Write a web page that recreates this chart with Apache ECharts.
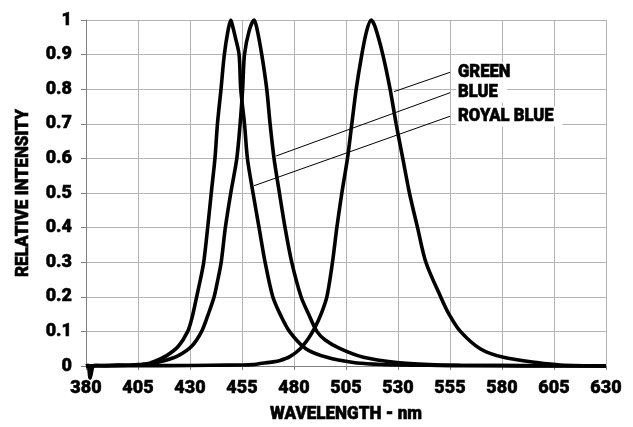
<!DOCTYPE html>
<html>
<head>
<meta charset="utf-8">
<script src="https://cdn.jsdelivr.net/npm/echarts@6/dist/echarts.min.js"></script>
<style>
html,body{margin:0;padding:0;background:#fff;}
#chart{width:633px;height:427px;}
</style>
</head>
<body>
<div id="chart"></div>
<script>
// Wavelength (nm) and relative intensity for each LED spectrum
const royalBlueNm  = [380, 381, 382, 383.5, 385, 390, 395, 400, 405, 410, 414, 418.8, 424.4, 428.9, 431, 433.2, 435, 436.6, 438.5, 440.4, 442, 443.2, 444.9, 446.5, 448.3, 449.6, 450.6, 451.8, 453.6, 454.4, 456.2, 457.6, 460.3, 463.2, 466.1, 469.8, 473.3, 477.8, 485.7, 495.8, 508.6, 520, 530, 545, 560, 580, 600, 630];
const royalBlueVal = [0, 0.002, -0.035, 0.001, 0.002, 0.001, 0.003, 0.002, 0.004, 0.007, 0.016, 0.03, 0.057, 0.1, 0.14, 0.2, 0.25, 0.3, 0.4, 0.51, 0.6, 0.7, 0.8, 0.9, 0.97, 1.0, 0.98, 0.95, 0.9, 0.8, 0.7, 0.6, 0.5, 0.4, 0.3, 0.2, 0.15, 0.1, 0.05, 0.025, 0.01, 0.005, 0.003, 0.002, 0.001, 0.001, 0, 0];

const blueNm  = [380, 390, 400, 410, 418, 424.4, 430.8, 435.6, 438.8, 441.6, 443.4, 445, 447, 449.6, 452.5, 454.1, 455.3, 456.2, 458.5, 460.8, 462, 464.5, 466.9, 468.5, 470.4, 473, 475.7, 478.9, 483.4, 487, 491, 495, 502.2, 513.4, 529.5, 545, 560, 590, 630];
const blueVal = [0, 0.001, 0.002, 0.006, 0.016, 0.03, 0.057, 0.1, 0.15, 0.2, 0.25, 0.3, 0.4, 0.5, 0.6, 0.7, 0.8, 0.9, 0.97, 1.0, 0.98, 0.9, 0.8, 0.7, 0.6, 0.5, 0.4, 0.3, 0.2, 0.15, 0.1, 0.075, 0.05, 0.025, 0.01, 0.004, 0.002, 0.001, 0];

const greenNm  = [380, 400, 420, 440, 455, 460, 463.7, 470, 473.3, 478, 483, 487, 490.2, 493, 495.8, 498.5, 500.6, 503, 505.7, 507.8, 509.9, 512.6, 515, 517.1, 519, 522.7, 526.2, 529.1, 532.3, 535.5, 539.4, 543.4, 550.5, 554.5, 560, 569.5, 580.7, 596.8, 608, 630];
const greenVal = [0, 0.001, 0.001, 0.002, 0.003, 0.004, 0.007, 0.012, 0.016, 0.027, 0.05, 0.08, 0.113, 0.15, 0.2, 0.3, 0.4, 0.5, 0.6, 0.7, 0.8, 0.9, 0.97, 1.0, 0.98, 0.9, 0.8, 0.7, 0.6, 0.5, 0.4, 0.3, 0.2, 0.15, 0.1, 0.05, 0.025, 0.01, 0.003, 0];

// Annotation labels: label anchor and the point on the curve the leader line reaches
const labelNames  = ['GREEN', 'BLUE', 'ROYAL BLUE'];
const labelAnchor = [[555.1, 0.849], [555.1, 0.790], [555.1, 0.722]];
const leaderEnd   = [[528.1, 0.793], [471.4, 0.607], [460.8, 0.521]];

const xTitle = 'WAVELENGTH - nm';
const yTitle = 'RELATIVE INTENSITY';

const xMin = 380, xMax = 630, xStep = 25;
const yMin = 0, yMax = 1, yStep = 0.1;

const zip = (xs, ys) => xs.map((x, i) => [x, ys[i]]);

const textFont = 'Roboto, "DejaVu Sans", sans-serif';
const heavy = 900;

// horizontal squeeze so the heavy text looks condensed like the original
const measureCtx = document.createElement('canvas').getContext('2d');
measureCtx.font = heavy + ' 19px ' + textFont;
const narrow = 152 / measureCtx.measureText(xTitle).width;

function curve(name, xs, ys) {
  return {
    name: name, type: 'line', data: zip(xs, ys),
    showSymbol: false, symbol: 'none',
    smooth: 0.3,
    clip: false,
    lineStyle: {color: '#000', width: 3.6}, itemStyle: {color: '#000'},
    z: 3
  };
}

const tickLabel = {
  fontFamily: textFont, fontWeight: heavy, fontSize: 18, color: '#000',
  textBorderColor: '#000', textBorderWidth: 0.5
};

const chart = echarts.init(document.getElementById('chart'), null, {renderer: 'canvas'});
chart.setOption({
  animation: false,
  backgroundColor: '#fff',
  grid: {left: 86, right: 27, top: 20, bottom: 61, containLabel: false},
  xAxis: {
    type: 'value', min: xMin, max: xMax, interval: xStep,
    axisLine: {show: true, lineStyle: {color: '#808080', width: 1}},
    axisTick: {show: true, length: 4, lineStyle: {color: '#808080'}},
    axisLabel: Object.assign({margin: 13}, tickLabel),
    splitLine: {show: true, lineStyle: {color: '#b4b4b4', width: 1}}
  },
  yAxis: {
    type: 'value', min: yMin, max: yMax, interval: yStep,
    axisLine: {show: true, lineStyle: {color: '#808080', width: 1}},
    axisTick: {show: true, length: 5, lineStyle: {color: '#808080'}},
    axisLabel: Object.assign({margin: 14}, tickLabel),
    splitLine: {show: true, lineStyle: {color: '#b4b4b4', width: 1}}
  },
  series: [
    curve('ROYAL BLUE', royalBlueNm, royalBlueVal),
    curve('BLUE', blueNm, blueVal),
    curve('GREEN', greenNm, greenVal),
    {
      name: 'leaders', type: 'line', data: [], z: 4,
      markLine: {
        silent: true, symbol: 'none', animation: false,
        lineStyle: {color: '#000', width: 1, type: 'solid'},
        label: {show: false},
        data: labelNames.map((n, i) => [{coord: leaderEnd[i]}, {coord: labelAnchor[i]}])
      }
    }
  ]
});

function narrowText(text, x, y, opts) {
  return Object.assign({
    type: 'text', x: x, y: y, scaleX: narrow, z: 100,
    style: Object.assign({
      text: text, fill: '#000', stroke: '#000', lineWidth: 0.6,
      fontFamily: textFont, fontWeight: heavy, fontSize: 19,
      align: 'center', verticalAlign: 'middle',
      textAlign: 'center', textVerticalAlign: 'middle'
    }, opts && opts.style || {})
  }, opts && opts.el || {});
}

const grid = chart.getModel().getComponent('grid', 0).coordinateSystem.getRect();
const graphics = [
  narrowText(xTitle, grid.x + grid.width / 2, 414),
  narrowText(yTitle, 23, grid.y + grid.height / 2, {el: {rotation: Math.PI / 2}})
];
labelNames.forEach((n, i) => {
  const p = chart.convertToPixel({gridIndex: 0}, labelAnchor[i]);
  graphics.push(narrowText(n, p[0] + 6, p[1], {
    style: {align: 'left', textAlign: 'left', fontSize: 18.5,
            backgroundColor: '#fff', padding: [1, 10, 0, 2]}
  }));
});
chart.setOption({graphic: {elements: graphics}});
</script>
</body>
</html>
